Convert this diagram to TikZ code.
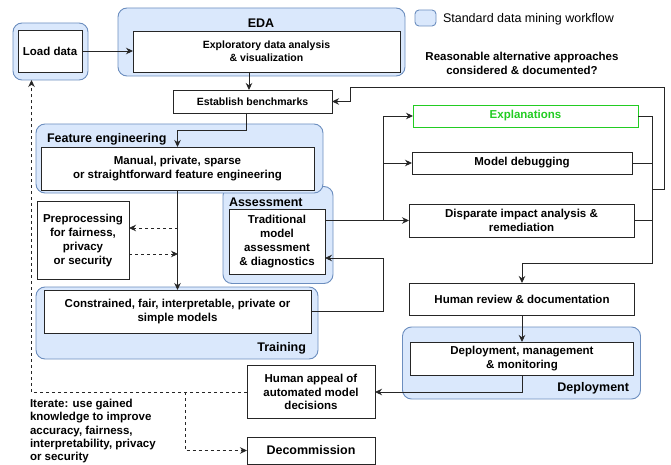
\documentclass[tikz,border=0pt]{standalone}
\usepackage{fontspec}
\setmainfont{Liberation Sans}
\usetikzlibrary{arrows.meta}
\definecolor{grpfill}{HTML}{DAE8FC}
\definecolor{grpline}{HTML}{6C8EBF}
\definecolor{expgreen}{HTML}{22CC22}
\newcommand{\boxtxt}{\bfseries\fontsize{11.5}{13.8}\selectfont}
\newcommand{\smalltxt}{\bfseries\fontsize{10.5}{13}\selectfont}
\newcommand{\headtxt}{\bfseries\fontsize{12.5}{15}\selectfont}

\begin{document}
\begin{tikzpicture}[x=1pt, y=-1pt,
    every node/.style = {inner sep=0pt, outer sep=0pt},
    wh/.style 2 args = {minimum width=#1pt, minimum height=#2pt},
    grp/.style = {draw=grpline, fill=grpfill, line width=0.9pt, rounded corners=9pt},
    box/.style = {draw=black!85, fill=white, line width=0.9pt, align=center, font=\boxtxt},
    head/.style = {font=\headtxt},
    link/.style = {draw=black!85, line width=0.9pt, -{Stealth[length=7pt, width=6.5pt]}},
    back/.style = {link, dash pattern=on 3pt off 3pt}
    ]
    \useasboundingbox (0,0) rectangle (671,465);
    % groups
    \node[grp, wh={75}{57}] (loadgrp) at (50.5,51.5) {};
    \node[grp, wh={287}{68}] (edagrp) at (261.5,42) {};
    \node[grp, wh={110}{97}] (assessgrp) at (278,235) {};
    \node[grp, wh={287}{69}] (featgrp) at (179.5,158.5) {};
    \node[grp, wh={282}{72}] (traingrp) at (177,323) {};
    \node[grp, wh={238}{72}] (deploygrp) at (521.5,363) {};
    \node[grp, wh={21}{16}, rounded corners=4pt] (legend) at (425.5,18) {};
    \node[head] (edatitle) at (261,23) {EDA};
    \node[head, anchor=west] (feattitle) at (47,139) {Feature engineering};
    \node[head, anchor=west] (assesstitle) at (229,202) {Assessment};
    \node[head, anchor=east] (traintitle) at (306,348) {Training};
    \node[head, anchor=east] (deploytitle) at (629,388) {Deployment};
    \node[anchor=west, font=\fontsize{12.5}{15}\selectfont] (legendtxt) at (443,19) {Standard data mining workflow};
    \node[align=center, font=\boxtxt] (question) at (522,63) {Reasonable alternative approaches\\considered \& documented?};
    % boxes
    \node[box, wh={64}{42}] (load) at (50,51) {Load data};
    \node[box, wh={267}{41}, font=\smalltxt] (eda) at (266.5,51.5) {Exploratory data analysis\\\& visualization};
    \node[box, wh={159}{23}, font=\smalltxt] (bench) at (252.5,101.5) {Establish benchmarks};
    \node[box, wh={273}{43}] (feat) at (177.5,168.5) {Manual, private, sparse\\or straightforward feature engineering};
    \node[box, wh={92}{78}] (prep) at (83,240.5) {Preprocessing\\for fairness,\\privacy\\or security};
    \node[box, wh={96}{65}] (trad) at (277,241.5) {Traditional\\model\\assessment\\\& diagnostics};
    \node[box, wh={267}{43}] (train) at (177.5,311.5) {Constrained, fair, interpretable, private or\\simple models};
    \node[box, wh={225}{22}, draw=expgreen, text=expgreen] (expl) at (525.5,116) {Explanations};
    \node[box, wh={220}{22}] (debug) at (522,163) {Model debugging};
    \node[box, wh={225}{33}] (impact) at (521.5,220.5) {Disparate impact analysis \&\\remediation};
    \node[box, wh={225}{32}] (review) at (522,299) {Human review \& documentation};
    \node[box, wh={223}{33}] (deploy) at (522,358.5) {Deployment, management\\\& monitoring};
    \node[box, wh={128}{53}] (appeal) at (311,392) {Human appeal of\\automated model\\decisions};
    \node[box, wh={128}{27}, font=\headtxt] (decom) at (311,450.5) {Decommission};
    \node[anchor=north west, align=left, font=\bfseries\fontsize{11.5}{13.4}\selectfont] (iterate) at (30,399) {Iterate: use gained\\knowledge to improve\\accuracy, fairness,\\interpretability, privacy\\or security};
    % connectors
    \draw[link] (load.east) -- (load.east -| eda.west);
    \draw[link] ([xshift=-3.5pt]bench.north |- eda.south) -- ([xshift=-3.5pt]bench.north);
    \draw[link] ([xshift=-6.5pt]bench.south) -- ++(0,17) -| (feat.north);
    \draw[link] (feat.south) -- (train.north);
    \draw[back] ([yshift=12.5pt]prep.east) ++(49,0) -- ([yshift=12.5pt]prep.east);
    \draw[back] ([yshift=-13.5pt]prep.east) -- ++(49,0);
    \draw[link] (trad.east |- impact.west) -- (impact.west);
    \draw[link] (trad.east |- impact.west) ++(58,0) |- (expl.west);
    \draw[link] (debug.west) ++(-29,0) -- (debug.west);
    \draw[link] (expl.east) -- ++(14,0) |- ([yshift=19.5pt]review.north) -- (review.north);
    \draw[draw=black!85, line width=0.9pt] (debug.east) -- ++(20,0);
    \draw[draw=black!85, line width=0.9pt] (impact.east) -- ++(18,0);
    \draw[link] (debug.east) ++(20,26) -| ++(12,-102) -| ([xshift=18pt]bench.east) -- (bench.east);
    \draw[link] (train.east) -- ++(72,0) |- ([yshift=-16.5pt]trad.east);
    \draw[link] (review.south) -- (deploy.north);
    \draw[link] (deploy.south) |- (appeal.east);
    \draw[back] (appeal.west) -| ([xshift=-19pt]loadgrp.south);
    \draw[back] (appeal.west) ++(-62,0) |- (decom.west);
\end{tikzpicture}
\end{document}
